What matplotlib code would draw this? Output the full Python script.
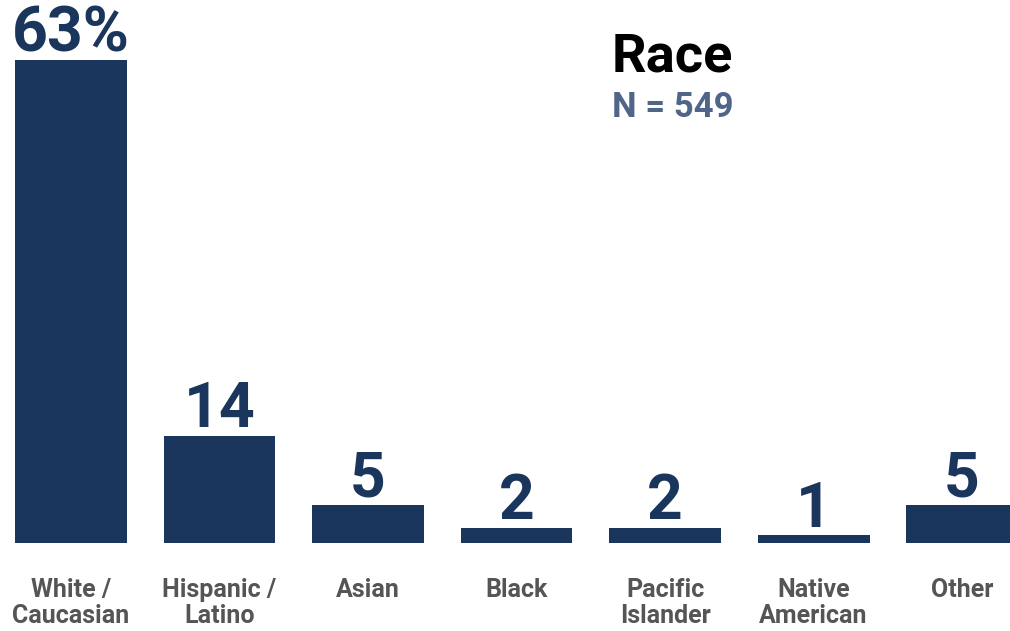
import matplotlib
matplotlib.use("Agg")
import matplotlib.pyplot as plt

categories = ["White /\nCaucasian", "Hispanic /\nLatino", "Asian", "Black",
              "Pacific\nIslander", "Native\nAmerican", "Other"]
values = [63, 14, 5, 2, 2, 1, 5]
value_labels = ["63%", "14", "5", "2", "2", "1", "5"]

bar_color = "#1b365d"
plt.rcParams['font.family'] = ['Roboto', 'DejaVu Sans']

fig = plt.figure(figsize=(10.1, 6.31), dpi=100)
ax = fig.add_axes([0, 88 / 631, 1, 543 / 631])

x = range(len(categories))
ax.bar(x, values, width=0.754, color=bar_color)
ax.set_xlim(-0.478, 6.323)
ax.set_ylim(0, 543 / 7.667)

# value labels sit just above each bar
for i, (v, lab) in enumerate(zip(values, value_labels)):
    ax.annotate(lab, (i, v), xytext=(0, 6), textcoords="offset points",
                ha="center", va="baseline", fontsize=45, fontweight="bold",
                color=bar_color)

for i, cat in enumerate(categories):
    ax.annotate(cat, (i, 0), xytext=(0, -25), textcoords="offset points",
                ha="center", va="top", fontsize=18, fontweight="bold",
                color="#555555", linespacing=1.12)

ax.axis("off")

fig.text(612 / 1010, 1 - 71 / 631, "Race", fontsize=39, fontweight="bold",
         color="black", ha="left", va="baseline")
fig.text(612 / 1010, 1 - 117 / 631, "N = 549", fontsize=25, fontweight="bold",
         color="#4f6689", ha="left", va="baseline")

fig.savefig("out.png", dpi=100)
